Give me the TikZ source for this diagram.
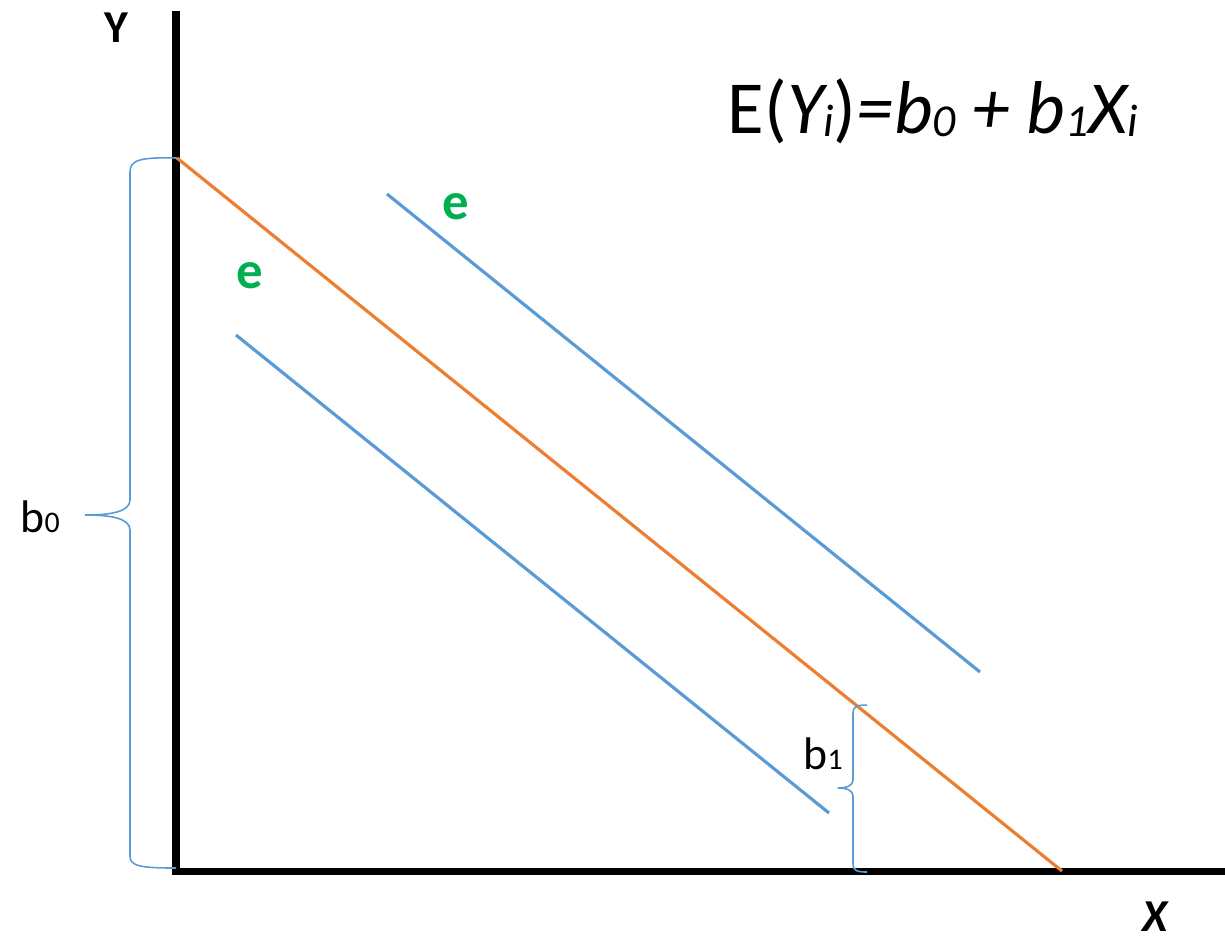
\documentclass[tikz,border=0pt]{standalone}
\usepackage{fontspec}
\setmainfont{Carlito}
\usetikzlibrary{positioning}

\definecolor{lineblue}{HTML}{5B9BD5}
\definecolor{lineorange}{HTML}{ED7D31}
\definecolor{errgreen}{HTML}{00B050}

% small lowered index, as in the formula
\newcommand{\idx}[2]{\raisebox{-0.05em}{\fontsize{#1}{#1}\selectfont #2}}

\begin{document}
\begin{tikzpicture}[x=0.01cm, y=-0.01cm,
  axis/.style={line width=2pt, black, line cap=rect},
  fitline/.style={line width=0.9pt, lineorange},
  errline/.style={line width=0.9pt, lineblue},
  bracket/.style={line width=0.45pt, lineblue},
  errlabel/.style={text=errgreen, font=\fontsize{15}{18}\selectfont\bfseries},
  axlabel/.style={font=\fontsize{13}{16}\selectfont\bfseries}]
\useasboundingbox (0,0) rectangle (1225,938);

% axes
\coordinate (origin) at (176,871);
\coordinate (ytop) at (176,15);
\coordinate (xend) at (1225,871);
\draw[axis] (ytop) -- (origin) -- (xend);
\node[axlabel] (ylab) at (116,28) {Y};
\node[axlabel] (xlab) at (1155,917) {\itshape X};

% regression line and error band
\coordinate (icept) at (177,158);
\coordinate (xcut) at (1062,871);
\draw[fitline] (icept) -- (xcut);
\coordinate (upa) at (387,194);
\coordinate (upb) at (980,672);
\draw[errline] (upa) -- (upb);
\coordinate (loa) at (236,335);
\coordinate (lob) at (829,813);
\draw[errline] (loa) -- (lob);
\node[errlabel] (eup) at (456,207) {e};
\node[errlabel] (elo) at (250,276) {e};

% formula
\node[anchor=base west, inner sep=0pt, font=\fontsize{21.3}{26}\selectfont] (formula) at (727,133)
  {E(\textit{Y\idx{13}{i}})\textit{=b\idx{13}{0} + b\idx{13}{1}X\idx{13}{i}}};

% b0 brace
\coordinate (b0tip) at (85,515);
\draw[bracket] (icept) .. controls (140,157) and (130,160) .. (130,172)
  -- (130,500) .. controls (130,512) and (110,515) .. (b0tip)
  .. controls (110,515) and (130,518) .. (130,530)
  -- (130,856) .. controls (130,866) and (140,868) .. (176,868);
\node[anchor=base west, inner sep=0pt, font=\fontsize{13}{16}\selectfont] (b0lab) at (20,532) {b{\fontsize{8.5}{8.5}\selectfont 0}};

% b1 brace
\coordinate (b1tip) at (838,788);
\draw[bracket] (867,705) .. controls (856,705) and (853,707) .. (853,713)
  -- (853,780) .. controls (853,786) and (846,788) .. (b1tip)
  .. controls (846,788) and (853,790) .. (853,796)
  -- (853,864) .. controls (853,870) and (856,872) .. (867,872);
\node[anchor=base west, inner sep=0pt, font=\fontsize{13}{16}\selectfont] (b1lab) at (803,769) {b{\fontsize{8.5}{8.5}\selectfont 1}};
\end{tikzpicture}
\end{document}
